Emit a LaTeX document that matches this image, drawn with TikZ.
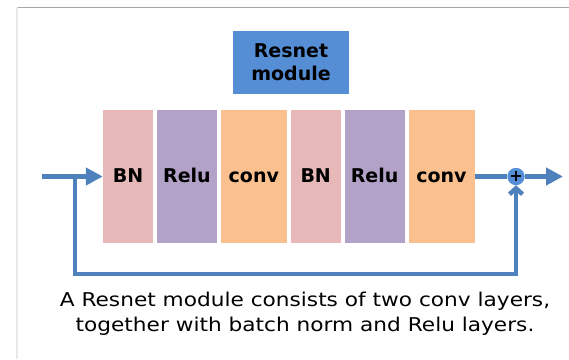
\documentclass[tikz,border=0pt]{standalone}
\usepackage{fontspec}
\setmainfont{DejaVu Sans}
\newfontfamily\captionfont[FakeStretch=1.14]{DejaVu Sans}
\usepackage{xcolor}
\usetikzlibrary{positioning,arrows.meta,calc}
\definecolor{bnpink}{HTML}{E6B9B8}
\definecolor{relupurple}{HTML}{B3A2C7}
\definecolor{convorange}{HTML}{FAC090}
\definecolor{titleblue}{HTML}{558ED5}
\definecolor{flowblue}{HTML}{4F81BD}

\begin{document}
\begin{tikzpicture}[
    x=1pt, y=-1pt,
    layer/.style={inner sep=0pt, minimum height=133pt, text height=14pt, text depth=2pt,
                  font=\fontsize{19}{22}\selectfont\bfseries},
    flow/.style={draw=flowblue, line width=4.5pt},
    node distance=3.5pt,
  ]
    \useasboundingbox (0,0) rectangle (569,359);
    % frame edges
    \draw[gray!70, line width=1pt] (17,7) -- (569,7);
    \draw[gray!18, line width=2pt] (16.5,7) -- (16.5,359);

    \node[fill=titleblue, minimum width=116pt, minimum height=63pt, inner sep=0pt, align=center,
          font=\fontsize{19}{23}\selectfont\bfseries] (title) at (291,62) {Resnet\\module};

    \node[layer, fill=bnpink, minimum width=50pt] (bn1) at (128,176.5) {BN};
    \node[layer, fill=relupurple, minimum width=60pt, right=of bn1] (relu1) {Relu};
    \node[layer, fill=convorange, minimum width=66pt, right=of relu1] (conv1) {conv};
    \node[layer, fill=bnpink, minimum width=50pt, right=of conv1] (bn2) {BN};
    \node[layer, fill=relupurple, minimum width=60pt, right=of bn2] (relu2) {Relu};
    \node[layer, fill=convorange, minimum width=66pt, right=of relu2] (conv2) {conv};

    \coordinate (in) at (42,176.5);
    \coordinate (split) at (75,176.5);
    \coordinate (loop) at (75,274);
    \coordinate (out) at (563,176.5);
    \node[circle, fill=titleblue, inner sep=0pt, minimum size=17pt] (sum) at (516,176.5) {};

    \draw[flow, -{Triangle[length=17pt, width=17pt]}] (in) -- (bn1.west);
    \draw[flow] (conv2.east) -- (sum.west);
    \draw[flow, -{Triangle[length=17pt, width=17pt]}] (sum.east) -- (out);
    % skip connection
    \draw[flow, -{Straight Barb[length=6pt, width=13pt]}] (split) -- (loop) -| (sum.south);
    \node[circle, fill=titleblue, inner sep=0pt, minimum size=17pt, font=\fontsize{16}{16}\selectfont\bfseries] at (sum) {+};

    \node[align=center, font=\captionfont\fontsize{19}{25}\selectfont] (caption) at (305,314)
      {A Resnet module consists of two conv layers,\\together with batch norm and Relu layers.};
  \end{tikzpicture}
\end{document}
